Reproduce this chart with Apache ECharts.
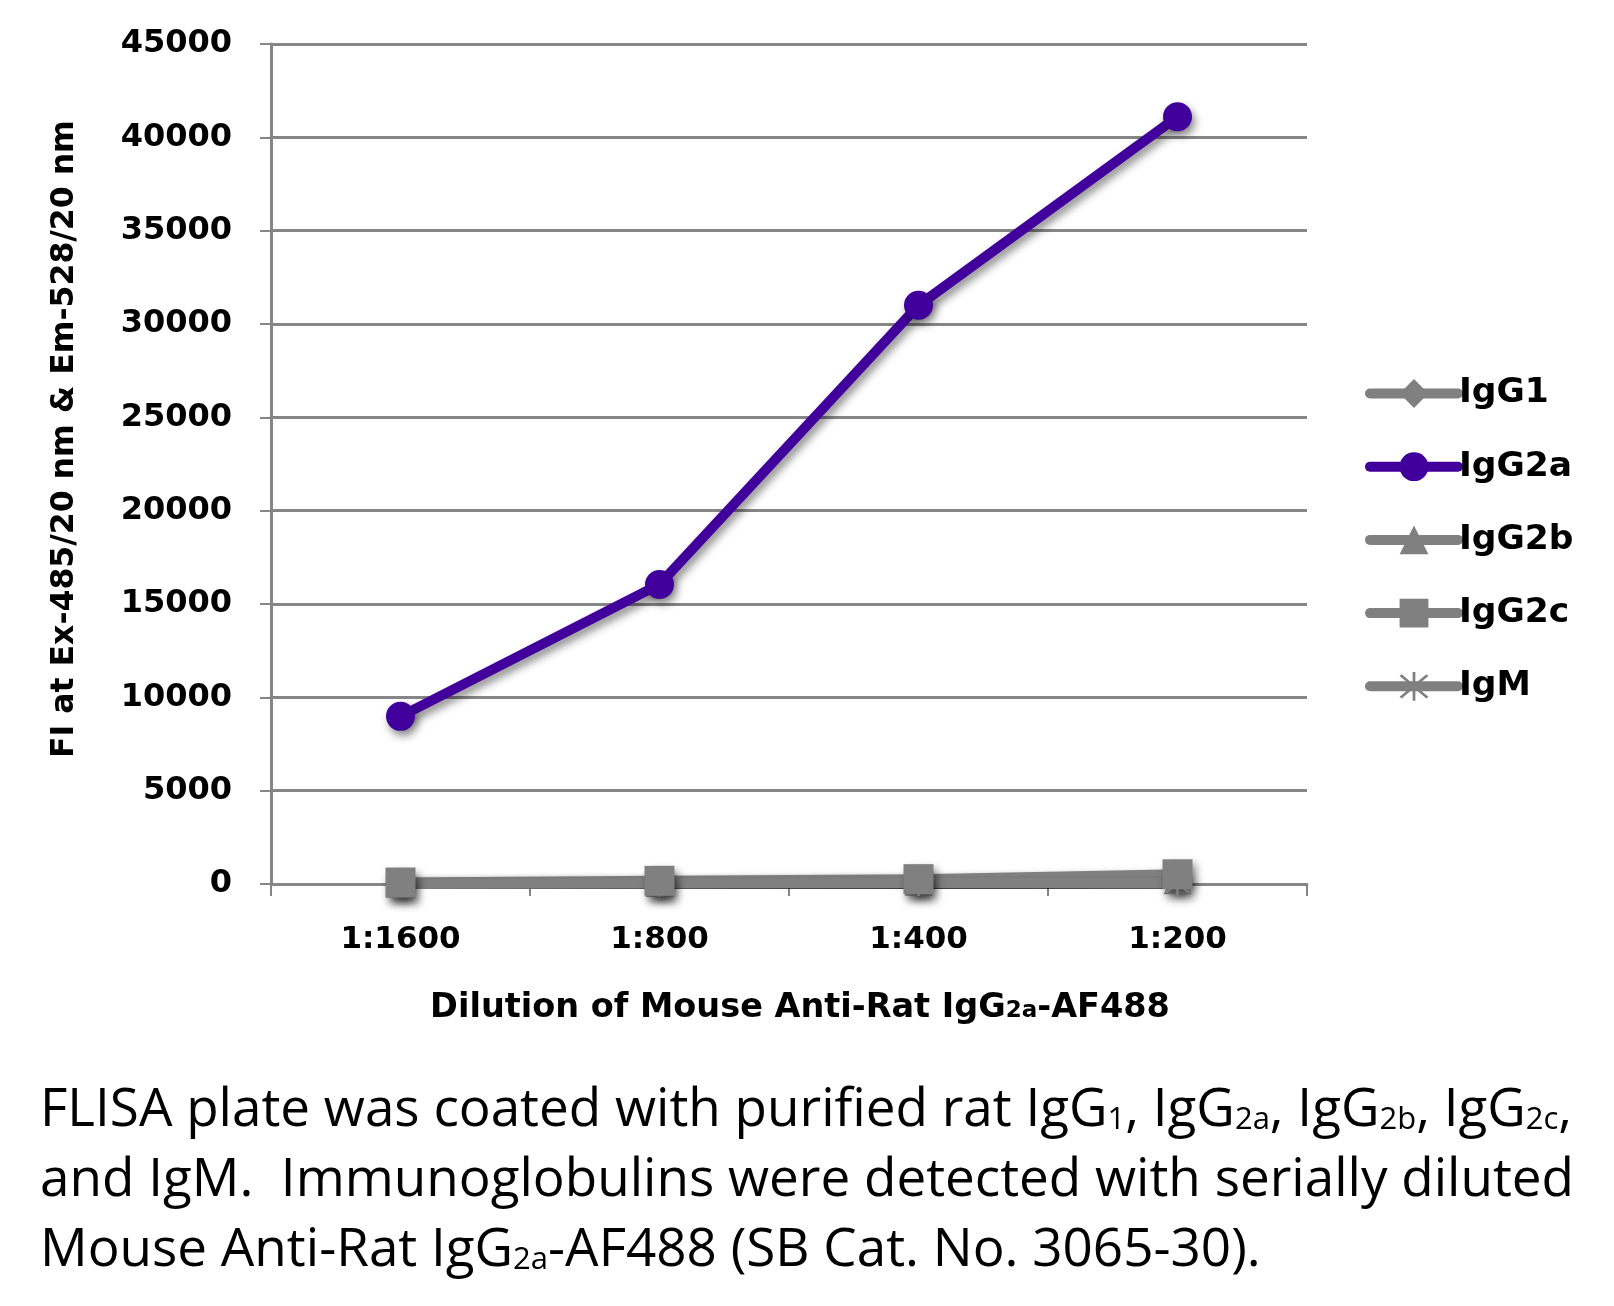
<!DOCTYPE html>
<html><head><meta charset="utf-8">
<script src="https://cdn.jsdelivr.net/npm/echarts@6/dist/echarts.min.js"></script>
<style>html,body{margin:0;padding:0;background:#fff}#c{width:1614px;height:1306px}</style>
</head><body><div id="c"></div>
<script>
const categories = ['1:1600', '1:800', '1:400', '1:200'];
const seriesNames = ['IgG1', 'IgG2a', 'IgG2b', 'IgG2c', 'IgM'];
const igg1 = [60, 120, 220, 380];
const igg2a = [8980, 16050, 31000, 41100];
const igg2b = [20, 60, 120, 200];
const igg2c = [80, 170, 260, 520];
const igm = [0, 30, 60, 60];
const yMin = 0, yMax = 45000, yInterval = 5000;
const yAxisName = 'FI at Ex-485/20 nm & Em-528/20 nm';
const xAxisName = 'Dilution of Mouse Anti-Rat IgG{s|2a}-AF488';
const captionLines = [
  'FLISA plate was coated with purified rat IgG{s|1}, IgG{s|2a}, IgG{s|2b}, IgG{s|2c},',
  'and IgM.  Immunoglobulins were detected with serially diluted',
  'Mouse Anti-Rat IgG{s|2a}-AF488 (SB Cat. No. 3065-30).'
];

const GRAY = '#808080';
const PURPLE = '#41009C';
const AXIS = '#868686';
const BOLD = 'DejaVu Sans';
const starPath = 'path://M46,0 L54,0 L54,100 L46,100 Z M8,14 L14,8 L92,86 L86,92 Z M86,8 L92,14 L14,92 L8,86 Z';

const shadow = {shadowColor: 'rgba(0,0,0,0.45)', shadowBlur: 8, shadowOffsetX: 3, shadowOffsetY: 5};
const noShadow = {shadowBlur: 0, shadowOffsetX: 0, shadowOffsetY: 0, shadowColor: 'transparent'};

function mk(name, data, color, symbol, size, markerShadow) {
  return {
    name, type: 'line', data, symbol, symbolSize: size,
    lineStyle: Object.assign({color, width: 10, cap: 'round', join: 'round'}, shadow),
    itemStyle: Object.assign({color}, markerShadow ? shadow : noShadow),
    emphasis: {disabled: true}, animation: false
  };
}

const chart = echarts.init(document.getElementById('c'));
chart.setOption({
  backgroundColor: '#fff',
  animation: false,
  grid: {left: 271, right: 307, top: 44, bottom: 422, containLabel: false},
  legend: {
    orient: 'vertical', left: 1360, top: 371,
    itemWidth: 88, itemHeight: 36, itemGap: 38.2,
    data: seriesNames,
    textStyle: {fontFamily: BOLD, fontWeight: 'bold', fontSize: 34.5, color: '#000', padding: [0, 0, 0, -4]},
    itemStyle: noShadow,
    lineStyle: Object.assign({width: 10, cap: 'round'}, noShadow)
  },
  xAxis: {
    type: 'category', data: categories, boundaryGap: true,
    axisLine: {lineStyle: {color: AXIS, width: 3}},
    axisTick: {show: true, length: 12, lineStyle: {color: AXIS, width: 2}},
    axisLabel: {margin: 40, color: '#000', fontFamily: BOLD, fontWeight: 'bold', fontSize: 31},
    name: xAxisName, nameLocation: 'middle', nameGap: 107,
    nameTextStyle: {
      color: '#000', fontFamily: BOLD, fontWeight: 'bold', fontSize: 33.5, padding: [0, 0, 0, 22],
      rich: {s: {fontFamily: BOLD, fontWeight: 'bold', fontSize: 23, color: '#000', verticalAlign: 'bottom', padding: [0, 0, 2, 0]}}
    }
  },
  yAxis: {
    type: 'value', min: yMin, max: yMax, interval: yInterval,
    axisLine: {show: true, lineStyle: {color: AXIS, width: 3}},
    axisTick: {show: true, length: 11, lineStyle: {color: AXIS, width: 2}},
    splitLine: {show: true, lineStyle: {color: AXIS, width: 3}},
    axisLabel: {margin: 39, color: '#000', fontFamily: BOLD, fontWeight: 'bold', fontSize: 32,
      formatter: v => String(v)},
    name: yAxisName, nameLocation: 'middle', nameGap: 190, nameRotate: 90,
    nameTextStyle: {color: '#000', fontFamily: BOLD, fontWeight: 'bold', fontSize: 31.5, padding: [0, 0, 0, 50]}
  },
  series: [
    mk('IgG1', igg1, GRAY, 'diamond', 30, true),
    mk('IgG2a', igg2a, PURPLE, 'circle', 29, true),
    mk('IgG2b', igg2b, GRAY, 'triangle', 28, true),
    mk('IgG2c', igg2c, GRAY, 'rect', 30, true),
    mk('IgM', igm, GRAY, starPath, 26, false)
  ],
  graphic: [{
    type: 'text', left: 40, top: 1076,
    style: {
      text: captionLines.join('\n'),
      fontFamily: 'Open Sans', fontSize: 53, fill: '#000', lineHeight: 70,
      rich: {s: {fontFamily: 'Open Sans', fontSize: 31, fill: '#000', lineHeight: 70, verticalAlign: 'bottom', padding: [0, 0, 10, 0]}}
    }
  }]
});
</script></body></html>
